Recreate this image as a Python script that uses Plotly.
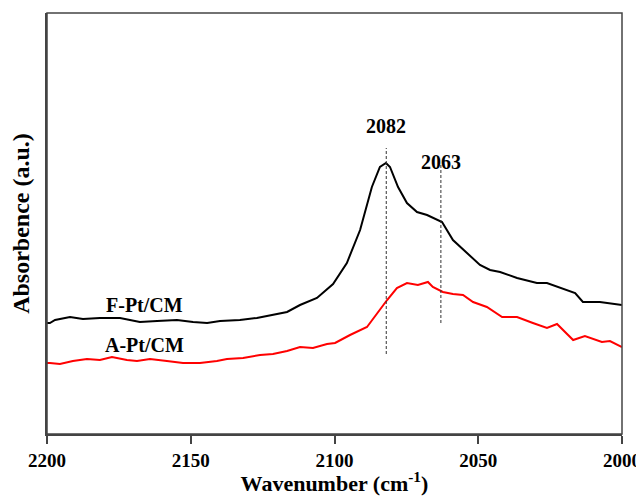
import plotly.graph_objects as go

# F-Pt/CM (black)
wn_f = [2200.0, 2199.0, 2197.2, 2192.0, 2187.5, 2181.6, 2174.6, 2167.7, 2161.7, 2154.8,
        2149.2, 2144.3, 2139.8, 2132.9, 2127.0, 2121.4, 2116.5, 2112.0, 2106.1, 2100.5,
        2095.7, 2091.1, 2087.0, 2084.2, 2082.1, 2080.7, 2077.9, 2074.8, 2071.3, 2067.8,
        2062.6, 2058.8, 2053.9, 2049.4, 2045.9, 2042.4, 2036.5, 2029.6, 2026.1, 2019.1,
        2016.3, 2013.6, 2007.7, 2000.0]
abs_f = [1.11, 1.11, 1.14, 1.17, 1.15, 1.16, 1.16, 1.12, 1.13, 1.14,
         1.12, 1.11, 1.13, 1.14, 1.16, 1.19, 1.22, 1.29, 1.36, 1.50,
         1.71, 2.04, 2.47, 2.67, 2.71, 2.67, 2.47, 2.31, 2.22, 2.19,
         2.12, 1.94, 1.81, 1.69, 1.64, 1.62, 1.56, 1.51, 1.51, 1.44,
         1.41, 1.32, 1.32, 1.29]

# A-Pt/CM (red)
wn_a = [2200.0, 2199.0, 2195.5, 2191.0, 2186.1, 2181.6, 2177.4, 2172.2, 2168.7, 2164.2,
        2158.3, 2152.7, 2146.8, 2140.9, 2137.4, 2131.8, 2125.9, 2121.4, 2116.5, 2112.0,
        2107.5, 2102.6, 2099.8, 2094.6, 2088.7, 2085.2, 2081.7, 2078.3, 2074.8, 2071.0,
        2067.5, 2065.8, 2062.3, 2058.8, 2055.3, 2051.8, 2047.0, 2041.7, 2036.5, 2031.0,
        2026.1, 2022.6, 2017.0, 2012.9, 2007.0, 2004.2, 2000.0]
abs_a = [0.71, 0.71, 0.70, 0.73, 0.75, 0.74, 0.77, 0.74, 0.73, 0.75,
         0.73, 0.71, 0.71, 0.73, 0.75, 0.76, 0.79, 0.80, 0.83, 0.87,
         0.86, 0.90, 0.91, 0.99, 1.07, 1.21, 1.34, 1.46, 1.51, 1.49,
         1.52, 1.47, 1.42, 1.40, 1.39, 1.32, 1.27, 1.17, 1.17, 1.11,
         1.06, 1.10, 0.94, 0.98, 0.92, 0.93, 0.87]

x_ticks = [2200, 2150, 2100, 2050, 2000]
peak_pos = [2082, 2063]
peak_labels = ["2082", "2063"]
peak_top = [2.86, 2.70]
peak_bottom = [0.80, 1.11]
peak_label_y = [3.08, 2.72]

series_names = ["F-Pt/CM", "A-Pt/CM"]
series_label_x = [2166, 2166]
series_label_y = [1.29, 0.89]

font_serif = "Liberation Serif"

fig = go.Figure()
fig.add_trace(go.Scatter(x=wn_f, y=abs_f, mode="lines", line=dict(color="black", width=2),
                         name=series_names[0], showlegend=False))
fig.add_trace(go.Scatter(x=wn_a, y=abs_a, mode="lines", line=dict(color="#ff0000", width=2),
                         name=series_names[1], showlegend=False))

for p, top, bot in zip(peak_pos, peak_top, peak_bottom):
    fig.add_trace(go.Scatter(x=[p, p], y=[bot, top], mode="lines",
                             line=dict(color="#333333", width=1, dash="3px,2px"),
                             showlegend=False, hoverinfo="skip"))

annotations = []
for p, lab, ly in zip(peak_pos, peak_labels, peak_label_y):
    annotations.append(dict(x=p, y=ly, text=f"<b>{lab}</b>", showarrow=False,
                            font=dict(family=font_serif, size=20, color="black")))
for nm, lx, ly in zip(series_names, series_label_x, series_label_y):
    annotations.append(dict(x=lx, y=ly, text=f"<b>{nm}</b>", showarrow=False,
                            font=dict(family=font_serif, size=20, color="black")))

fig.update_layout(
    width=636, height=488,
    margin=dict(l=39, r=22, t=5, b=62),
    paper_bgcolor="white", plot_bgcolor="white",
    annotations=annotations,
    xaxis=dict(range=[2200, 2000], tickvals=x_ticks, ticktext=[f"<b>{t}</b>" for t in x_ticks],
               ticks="outside", ticklen=8, tickwidth=1.5, tickcolor="#444444",
               showline=True, linecolor="#444444", linewidth=1.5, mirror=False,
               showgrid=False, zeroline=False,
               tickfont=dict(family=font_serif, size=19, color="black"),
               title=dict(text="<b>Wavenumber (cm<sup>-1</sup>)</b>", standoff=4,
                          font=dict(family=font_serif, size=22, color="black")),
               automargin=False),
    yaxis=dict(range=[0, 4.21], showticklabels=False, ticks="",
               showline=True, linecolor="#444444", linewidth=1.5, mirror=False,
               showgrid=False, zeroline=False,
               title=dict(text="<b>Absorbence (a.u.)</b>", standoff=10,
                          font=dict(family=font_serif, size=24, color="black")),
               automargin=False),
    shapes=[dict(type="rect", xref="paper", yref="paper", x0=0, x1=1, y0=0, y1=1,
                 line=dict(color="#444444", width=1.5))],
)

fig.write_html("out.html")
